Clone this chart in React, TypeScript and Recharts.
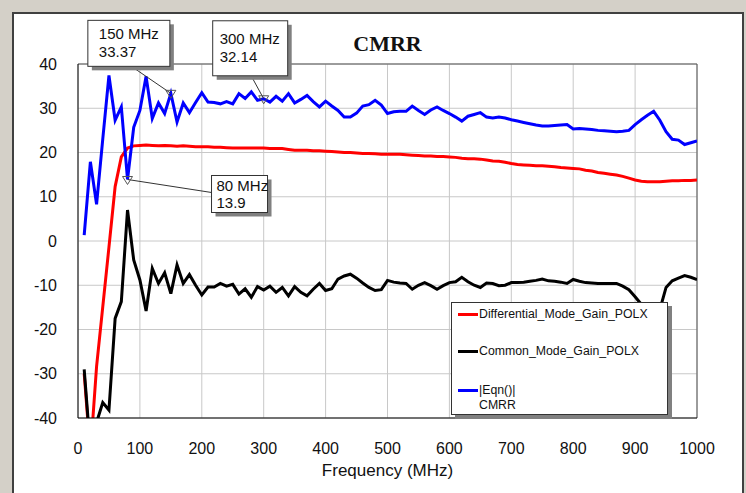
import {
  LineChart,
  Line,
  XAxis,
  YAxis,
  CartesianGrid,
  Legend,
  ReferenceDot,
  ReferenceLine,
} from "recharts";

const FREQ_MHZ = [
  10, 20, 30, 40, 50, 60, 70, 80, 90, 100,
  110, 120, 130, 140, 150, 160, 170, 180, 190, 200,
  210, 220, 230, 240, 250, 260, 270, 280, 290, 300,
  310, 320, 330, 340, 350, 360, 370, 380, 390, 400,
  410, 420, 430, 440, 450, 460, 470, 480, 490, 500,
  510, 520, 530, 540, 550, 560, 570, 580, 590, 600,
  610, 620, 630, 640, 650, 660, 670, 680, 690, 700,
  710, 720, 730, 740, 750, 760, 770, 780, 790, 800,
  810, 820, 830, 840, 850, 860, 870, 880, 890, 900,
  910, 920, 930, 940, 950, 960, 970, 980, 990, 1000,
];

const DIFF_GAIN = [
  -30, -48, -28.4, -14.9, -1.4, 12.3, 19.0, 21.0, 21.5, 21.6,
  21.7, 21.6, 21.5, 21.6, 21.5, 21.4, 21.5, 21.4, 21.3, 21.3,
  21.3, 21.2, 21.2, 21.1, 21.0, 21.0, 21.0, 21.0, 21.0, 21.0,
  20.9, 20.9, 20.9, 20.7, 20.5, 20.5, 20.5, 20.4, 20.4, 20.3,
  20.2, 20.1, 20.0, 20.0, 19.9, 19.8, 19.8, 19.7, 19.6, 19.6,
  19.6, 19.6, 19.5, 19.4, 19.3, 19.2, 19.2, 19.1, 19.1, 19.0,
  18.9, 18.7, 18.6, 18.6, 18.5, 18.3, 18.1, 18.0, 17.8, 17.5,
  17.3, 17.2, 17.1, 17.0, 17.0, 16.9, 16.8, 16.6, 16.5, 16.4,
  16.3, 16.0, 15.8, 15.5, 15.3, 15.1, 14.9, 14.6, 14.2, 13.8,
  13.5, 13.4, 13.4, 13.4, 13.5, 13.6, 13.6, 13.7, 13.7, 13.8,
];

const COMMON_GAIN = [
  -29, -47, -41, -36.5, -38.2, -17.5, -13.7, 7.0, -4.3, -8.8,
  -15.8, -6.2, -9.6, -7.2, -11.9, -5.4, -9.6, -7.6, -10.0, -12.2,
  -10.4, -10.4, -9.6, -10.2, -9.8, -12.0, -10.8, -12.7, -10.3, -11.1,
  -10.2, -11.6, -10.5, -12.4, -10.3, -11.6, -12.4, -10.9, -9.6, -11.2,
  -10.8, -8.6, -7.9, -7.5, -8.4, -9.5, -10.5, -11.2, -11.0, -8.9,
  -9.3, -9.5, -9.6, -10.9, -10.0, -9.4, -10.1, -10.9, -10.1, -9.4,
  -9.2, -8.2, -9.2, -10.0, -10.5, -9.5, -9.6, -10.1, -10.0, -9.4,
  -9.4, -9.3, -9.1, -8.9, -8.6, -9.0, -9.1, -9.3, -9.6, -8.7,
  -9.1, -9.4, -9.5, -9.6, -9.6, -9.6, -9.6, -10.2, -11.0, -12.6,
  -14.3, -19.5, -20.5, -15.5, -10.5, -9.0, -8.4, -7.8, -8.2, -8.7,
];

const CMRR_DB = [
  1.3, 17.9, 8.3, 23.0, 37.4, 27.3, 30.3, 13.9, 25.7, 29.5,
  37.2, 27.7, 31.2, 28.8, 33.37, 26.9, 31.2, 29.0, 31.3, 33.5,
  31.4, 31.3, 31.0, 31.5, 31.0, 33.3, 32.2, 33.7, 31.8, 32.14,
  31.4, 32.7, 31.6, 33.3, 31.2, 32.0, 32.9, 31.5, 30.3, 31.6,
  30.5, 29.5, 28.0, 28.0, 28.9, 30.5, 30.8, 31.8, 30.7, 28.8,
  29.2, 29.3, 29.3, 30.5, 29.5, 28.6, 29.6, 30.3, 29.5, 28.8,
  28.0, 27.1, 28.2, 28.6, 29.0, 28.0, 27.8, 28.0, 27.8, 27.4,
  27.1, 26.8, 26.5, 26.2, 26.0, 26.0, 26.1, 26.2, 26.3, 25.3,
  25.4, 25.3, 25.2, 25.0, 24.9, 24.8, 24.7, 24.8, 25.0, 26.3,
  27.4, 28.4, 29.3, 27.3, 24.7, 23.0, 22.8, 21.8, 22.2, 22.6,
];

const X_TICKS = [0, 100, 200, 300, 400, 500, 600, 700, 800, 900, 1000];
const Y_TICKS = [-40, -30, -20, -10, 0, 10, 20, 30, 40];

// marker frequencies on the CMRR trace
const MARKER_FREQ = [150, 300, 80];

const SERIES = [
  { key: "diff", name: ["Differential_Mode_Gain_POLX"], color: "#ff0000" },
  { key: "common", name: ["Common_Mode_Gain_POLX"], color: "#000000" },
  { key: "cmrr", name: ["|Eqn()|", "CMRR"], color: "#0000ff" },
];

// callout box geometry, relative to the marker point
const CALLOUT_LAYOUT = [
  { dx: -83, dy: -73, w: 82, h: 46, lx: -38, ly: -26, px: 11, r1: 13, r2: 31 },
  { dx: -51, dy: -78, w: 75, h: 55, lx: -12, ly: -22, px: 7, r1: 18, r2: 36 },
  { dx: 84, dy: -4, w: 56, h: 37, lx: 84, ly: 13, px: 5, r1: 10, r2: 27 },
];

const FONT = '"Liberation Sans", Arial, sans-serif';

const rows = FREQ_MHZ.map((f, i) => ({
  freq: f,
  diff: DIFF_GAIN[i],
  common: COMMON_GAIN[i],
  cmrr: CMRR_DB[i],
}));

type CalloutProps = {
  cx?: number;
  cy?: number;
  freq: number;
  value: number;
  layout: (typeof CALLOUT_LAYOUT)[number];
};

function Callout({ cx = 0, cy = 0, freq, value, layout }: CalloutProps) {
  const { dx, dy, w, h, lx, ly, px, r1, r2 } = layout;
  const bx = cx + dx;
  const by = cy + dy;
  return (
    <g>
      <line x1={cx + lx} y1={cy + ly} x2={cx} y2={cy} stroke="#333" strokeWidth={1} />
      <polygon
        points={`${cx - 5},${cy - 3} ${cx + 5},${cy - 3} ${cx},${cy + 5}`}
        fill="none"
        stroke="#555"
        strokeWidth={1}
      />
      <rect x={bx + 4} y={by + 4} width={w} height={h} fill="#808080" />
      <rect x={bx} y={by} width={w} height={h} fill="#ffffff" stroke="#333" strokeWidth={1} />
      <text x={bx + px} y={by + r1 + 5.5} fontSize={15} fontFamily={FONT} fill="#111">
        {freq} MHz
      </text>
      <text x={bx + px} y={by + r2 + 5.5} fontSize={15} fontFamily={FONT} fill="#111">
        {value}
      </text>
    </g>
  );
}

function LegendBox() {
  return (
    <div
      style={{
        width: 217,
        height: 113,
        background: "#fff",
        border: "1px solid #333",
        boxShadow: "4px 4px 0 #808080",
        boxSizing: "border-box",
        position: "relative",
        fontFamily: FONT,
        fontSize: 12.3,
        color: "#111",
      }}
    >
      {SERIES.map((s, i) => (
        <div
          key={s.key}
          style={{ position: "absolute", left: 6, top: [4, 41, 80][i], lineHeight: "15px" }}
        >
          {s.name.map((line, j) => (
            <div key={line} style={{ display: "flex", alignItems: "center" }}>
              <span
                style={{
                  display: "inline-block",
                  width: 20,
                  height: 3,
                  marginRight: 1,
                  background: j === 0 ? s.color : "transparent",
                }}
              />
              {line}
            </div>
          ))}
        </div>
      ))}
    </div>
  );
}

export default function App() {
  return (
    <div
      style={{
        position: "absolute",
        left: 0,
        top: 0,
        width: 746,
        height: 493,
        background: "#d4d0c8",
        overflow: "hidden",
      }}
    >
      <div
        style={{
          position: "absolute",
          left: 12,
          top: 12,
          width: 728,
          height: 500,
          background: "#fff",
          border: "2px solid #404040",
        }}
      />
      <div
        style={{
          position: "absolute",
          left: 0,
          width: 775,
          top: 31,
          textAlign: "center",
          fontFamily: '"Liberation Serif", "Times New Roman", serif',
          fontWeight: "bold",
          fontSize: 22,
          color: "#111",
        }}
      >
        CMRR
      </div>
      <div style={{ position: "absolute", left: 0, top: 0 }}>
        <LineChart
          width={746}
          height={493}
          data={rows}
          margin={{ top: 64, right: 49, bottom: 45, left: 18 }}
        >
          <CartesianGrid stroke="#c8c8c8" strokeWidth={1} />
          <XAxis
            dataKey="freq"
            type="number"
            domain={[0, 1000]}
            ticks={X_TICKS}
            allowDataOverflow
            tickLine={false}
            tickMargin={19}
            height={30}
            axisLine={{ stroke: "#000" }}
            tick={{ fontSize: 16, fill: "#111", fontFamily: FONT }}
            label={{
              value: "Frequency (MHz)",
              position: "bottom",
              offset: 16,
              style: { fontSize: 17, fill: "#111", fontFamily: FONT },
            }}
          />
          <YAxis
            type="number"
            domain={[-40, 40]}
            ticks={Y_TICKS}
            allowDataOverflow
            tickLine={false}
            tickMargin={15}
            width={60}
            axisLine={{ stroke: "#000" }}
            tick={{ fontSize: 16, fill: "#111", fontFamily: FONT }}
          />
          <ReferenceLine y={40} stroke="#555" />
          <ReferenceLine x={1000} stroke="#555" />
          {SERIES.map((s) => (
            <Line
              key={s.key}
              dataKey={s.key}
              name={s.name.join(" ")}
              stroke={s.color}
              strokeWidth={3}
              dot={false}
              type="linear"
              isAnimationActive={false}
            />
          ))}
          {MARKER_FREQ.map((f, i) => {
            const value = CMRR_DB[FREQ_MHZ.indexOf(f)];
            return (
              <ReferenceDot
                key={f}
                x={f}
                y={value}
                ifOverflow="visible"
                shape={(p: { cx?: number; cy?: number }) => (
                  <Callout cx={p.cx} cy={p.cy} freq={f} value={value} layout={CALLOUT_LAYOUT[i]} />
                )}
              />
            );
          })}
          <Legend
            layout="horizontal"
            verticalAlign="middle"
            align="center"
            wrapperStyle={{ left: 451, top: 302, width: 222, height: 118 }}
            content={() => <LegendBox />}
          />
        </LineChart>
      </div>
    </div>
  );
}
